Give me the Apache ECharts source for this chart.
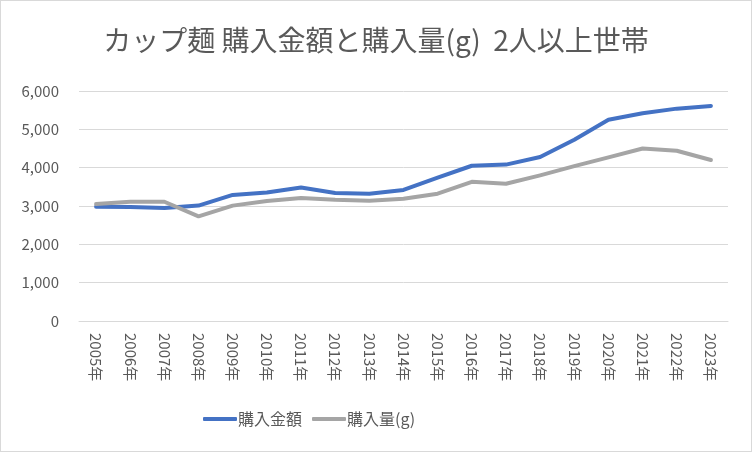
<!DOCTYPE html>
<html><head><meta charset="utf-8">
<script src="https://cdn.jsdelivr.net/npm/echarts@6/dist/echarts.min.js"></script>
<style>
html,body{margin:0;padding:0;background:#fff;}
#c{width:752px;height:452px;box-sizing:border-box;border:1px solid #d9d9d9;}
</style></head><body>
<div id="c"></div>
<script>
const categories = ['2005年','2006年','2007年','2008年','2009年','2010年','2011年','2012年','2013年','2014年','2015年','2016年','2017年','2018年','2019年','2020年','2021年','2022年','2023年'];
const amount = [2980,2975,2945,3010,3290,3350,3480,3340,3320,3420,3740,4050,4080,4280,4730,5250,5420,5540,5610];
const weight = [3050,3110,3110,2730,3010,3130,3210,3160,3140,3190,3320,3630,3580,3800,4040,4270,4500,4440,4200];
const yTicks = [0,1000,2000,3000,4000,5000,6000];

const font = '"Noto Sans CJK JP","Noto Sans",sans-serif';
const chart = echarts.init(document.getElementById('c'));
chart.setOption({
  animation:false,
  title:{text:'カップ麺 購入金額と購入量(g)  2人以上世帯',left:'center',top:20,
    textStyle:{fontFamily:font,fontSize:28,fontWeight:'normal',color:'#595959'}},
  grid:{left:78,right:23,top:90,bottom:130},
  legend:{top:405,left:197,itemWidth:34,itemHeight:4,itemGap:10,
    icon:'roundRect',
    textStyle:{fontFamily:font,fontSize:16,color:'#595959',padding:[0,0,0,-4]},
    data:['購入金額','購入量(g)']},
  xAxis:{type:'category',data:categories,boundaryGap:true,
    axisLine:{lineStyle:{color:'#d9d9d9'}},axisTick:{show:false},
    axisLabel:{rotate:-90,color:'#595959',fontSize:15,fontFamily:font,margin:12,interval:0}},
  yAxis:{type:'value',min:yTicks[0],max:yTicks[yTicks.length-1],interval:1000,
    axisLine:{show:false},axisTick:{show:false},
    splitLine:{lineStyle:{color:'#d9d9d9',width:1}},
    axisLabel:{color:'#595959',fontSize:15,fontFamily:font,margin:20,
      formatter:v=>v.toLocaleString('en-US')}},
  series:[
    {name:'購入金額',type:'line',data:amount,symbol:'none',
      lineStyle:{color:'#4472C4',width:4,cap:'round',join:'round'},itemStyle:{color:'#4472C4'}},
    {name:'購入量(g)',type:'line',data:weight,symbol:'none',
      lineStyle:{color:'#A5A5A5',width:4,cap:'round',join:'round'},itemStyle:{color:'#A5A5A5'}}
  ]
});
</script></body></html>
